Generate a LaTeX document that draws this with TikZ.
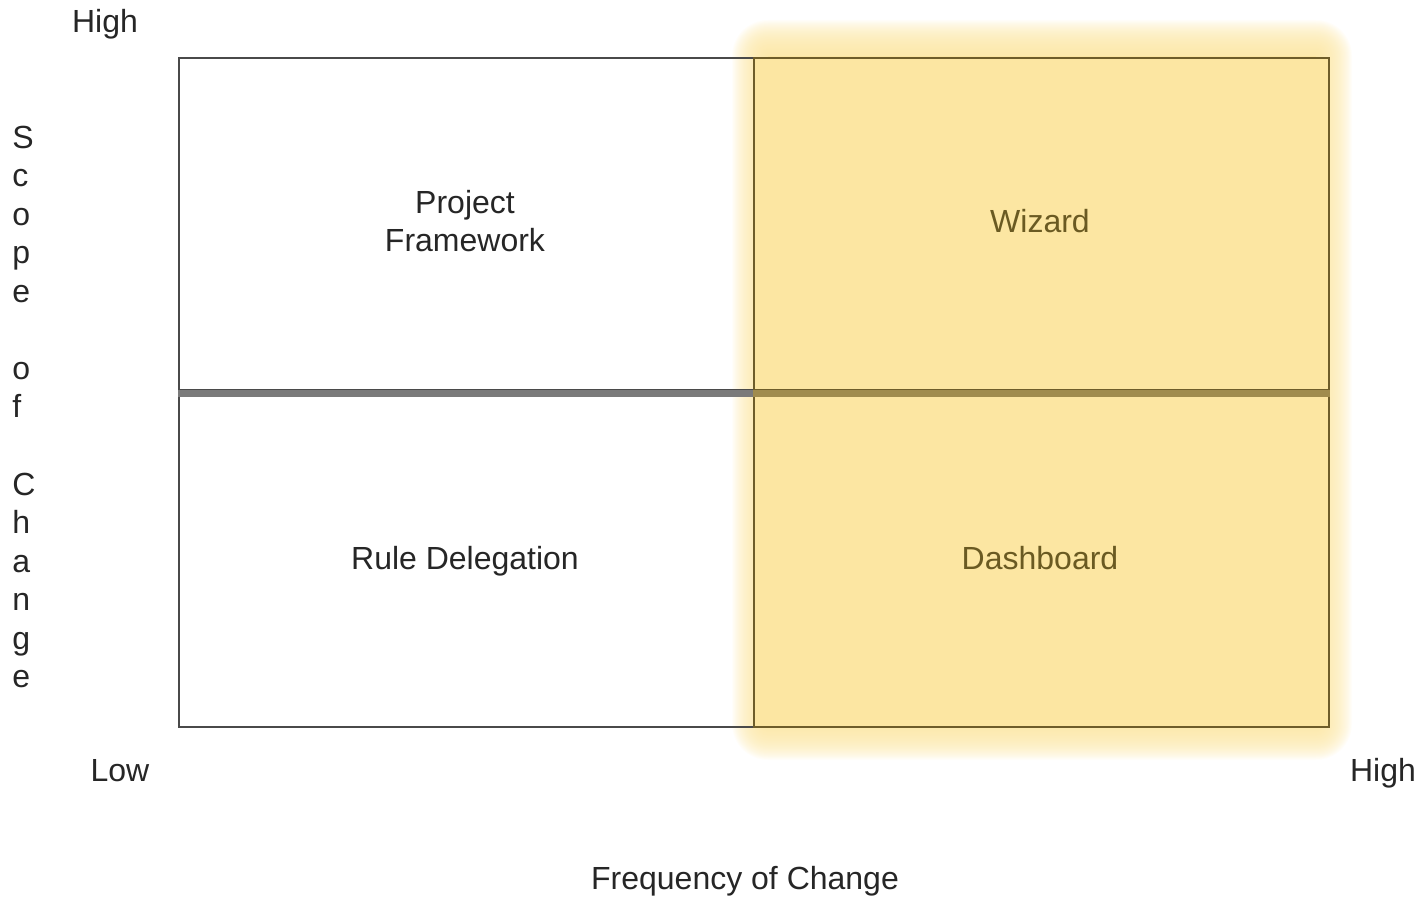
\documentclass[tikz,border=0pt]{standalone}
\usepackage{fontspec}
\setmainfont{Liberation Sans}
\definecolor{txt}{HTML}{262626}
\definecolor{boxline}{HTML}{4A4A4A}
\definecolor{barc}{HTML}{7A7A7A}
\definecolor{hl}{HTML}{FCE6A2}
\definecolor{hlline}{HTML}{6E5D2A}
\definecolor{hlbar}{HTML}{A08C4E}
\definecolor{hltxt}{HTML}{6A5A22}
\tikzset{
  lbl/.style={font=\fontsize{16pt}{19pt}\selectfont, text=txt, inner sep=0pt, anchor=base},
  hllbl/.style={lbl, text=hltxt},
  cell/.style={draw=boxline, line width=1pt},
  hlcell/.style={draw=hlline, line width=1pt},
}
\begin{document}
\begin{tikzpicture}[x=0.5pt,y=-0.5pt]
\useasboundingbox (0,0) rectangle (1422,897);
% highlight glow
\foreach \i in {36,35,...,1} {
  \fill[hl, opacity=0.06, rounded corners=\i*0.5pt] (768-\i,56-\i) rectangle (1316+\i,724+\i);
}
\fill[hl] (768,56) rectangle (1316,724);
\fill[hl] (753,57) rectangle (1328,726);
% left cells
\node[cell, minimum width=287.5pt, minimum height=166pt, inner sep=0pt, anchor=north west] (pf) at (178,57) {};
\node[cell, minimum width=287.5pt, minimum height=165.5pt, inner sep=0pt, anchor=north west] (rd) at (178,395) {};
\draw[barc, line width=3.5pt] (pf.south west) ++(0,3) coordinate (b1) -- (b1 -| pf.south east) coordinate (b2);
% right cells
\node[hlcell, minimum width=287.5pt, minimum height=166pt, inner sep=0pt, anchor=north west] (wz) at (753,57) {};
\node[hlcell, minimum width=287.5pt, minimum height=165.5pt, inner sep=0pt, anchor=north west] (db) at (753,395) {};
\draw[hlbar, line width=3.5pt] (wz.south west) ++(0,3) coordinate (b3) -- (b3 -| wz.south east) coordinate (b4);
% cell labels
\node[lbl] (pf1) at (465,214) {Project};
\node[lbl] (pf2) at (465,251.5) {Framework};
\node[lbl] (rdl) at (465,569.5) {Rule Delegation};
\node[hllbl] (wzl) at (1040,232.5) {Wizard};
\node[hllbl] (dbl) at (1040,569.5) {Dashboard};
% axis labels
\node[lbl] (yhigh) at (105,33) {High};
\node[lbl] (xlow) at (120,781) {Low};
\node[lbl] (xhigh) at (1383,781) {High};
\node[lbl] (xaxis) at (745,889) {Frequency of Change};
\foreach \ch/\k in {S/0,c/1,o/2,p/3,e/4,o/6,f/7,C/9,h/10,a/11,n/12,g/13,e/14} {
  \node[lbl, anchor=base west] (v\k) at (12,148.5+38.5*\k) {\ch};
}
\end{tikzpicture}
\end{document}
